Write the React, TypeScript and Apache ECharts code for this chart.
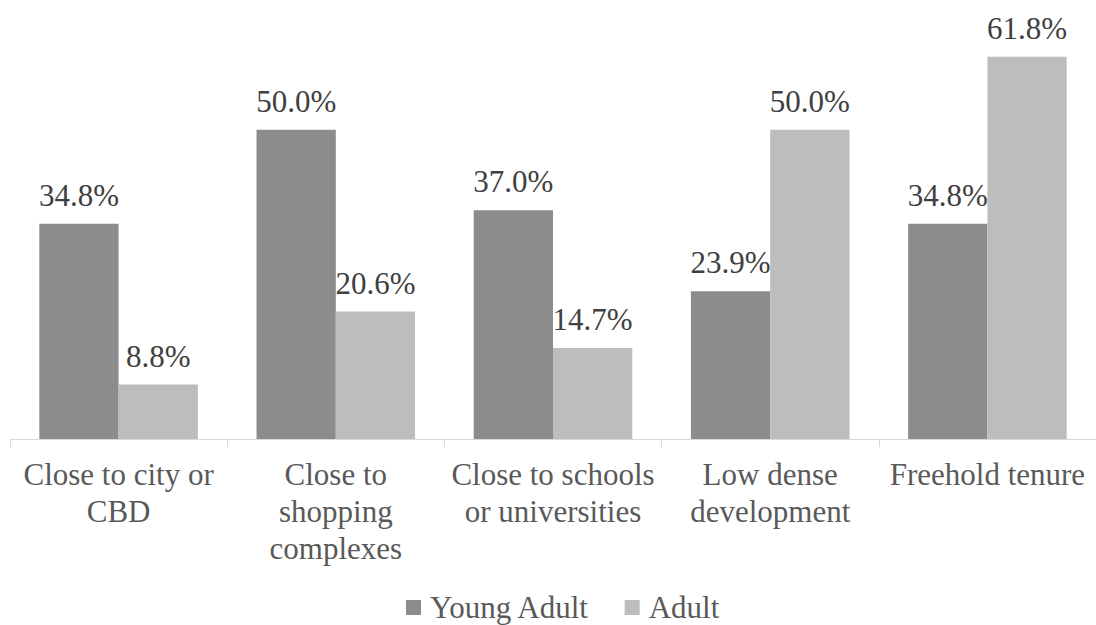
import React, { useEffect, useRef } from "react";
import * as echarts from "echarts";

// Residential location preferences by age group (percent of respondents)
const categories = [
  "Close to city or\nCBD",
  "Close to\nshopping\ncomplexes",
  "Close to schools\nor universities",
  "Low dense\ndevelopment",
  "Freehold tenure",
];
const youngAdult = [34.8, 50.0, 37.0, 23.9, 34.8];
const adult = [8.8, 20.6, 14.7, 50.0, 61.8];
const seriesNames = ["Young Adult", "Adult"];

const FONT = "Liberation Serif";
const FONT_SIZE = 31;

export default function App() {
  const ref = useRef<HTMLDivElement>(null);

  useEffect(() => {
    if (!ref.current) return;
    const chart = echarts.init(ref.current, undefined, { renderer: "svg" });
    const valueLabel = {
      show: true,
      position: "top" as const,
      distance: 13,
      fontFamily: FONT,
      fontSize: FONT_SIZE,
      color: "#404040",
      formatter: (p: any) => `${Number(p.value).toFixed(1)}%`,
    };
    chart.setOption({
      animation: false,
      backgroundColor: "#ffffff",
      textStyle: { fontFamily: FONT },
      grid: { left: 10, top: 6, width: 1095, height: 433, containLabel: false },
      legend: {
        top: 592,
        left: 406,
        padding: 0,
        itemWidth: 15,
        itemHeight: 15,
        itemGap: 35,
        icon: "rect",
        data: seriesNames,
        textStyle: {
          fontFamily: FONT,
          fontSize: FONT_SIZE,
          color: "#595959",
          padding: [0, 0, 0, 4],
        },
      },
      xAxis: {
        type: "category",
        data: categories,
        boundaryGap: true,
        axisLine: { show: true, lineStyle: { color: "#d9d9d9", width: 1 } },
        axisTick: { show: true, length: 8, alignWithLabel: false, lineStyle: { color: "#d9d9d9" } },
        axisLabel: {
          interval: 0,
          margin: 17,
          fontFamily: FONT,
          fontSize: FONT_SIZE,
          lineHeight: 37,
          color: "#595959",
        },
      },
      yAxis: {
        type: "value",
        min: 0,
        max: 70,
        show: false,
        splitLine: { show: false },
      },
      series: [
        {
          name: seriesNames[0],
          type: "bar",
          data: youngAdult,
          barGap: "0%",
          barCategoryGap: "27%",
          itemStyle: { color: "#8c8c8c" },
          label: valueLabel,
        },
        {
          name: seriesNames[1],
          type: "bar",
          data: adult,
          barGap: "0%",
          barCategoryGap: "27%",
          itemStyle: { color: "#bdbdbd" },
          label: valueLabel,
        },
      ],
    });
    return () => chart.dispose();
  }, []);

  return (
    <div
      ref={ref}
      style={{ position: "fixed", left: 0, top: 0, width: 1096, height: 625, background: "#fff" }}
    />
  );
}
